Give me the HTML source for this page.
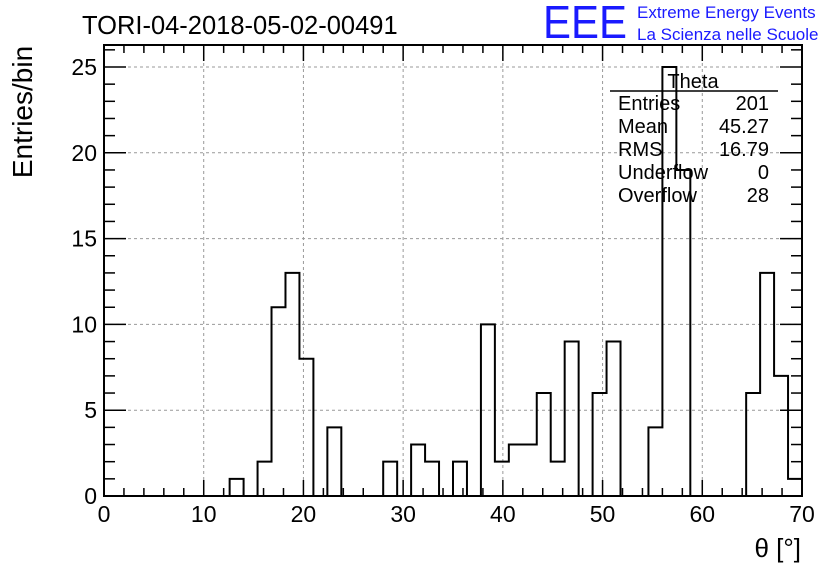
<!DOCTYPE html>
<html><head><meta charset="utf-8"><style>
html,body{margin:0;padding:0;background:#fff;}
svg text{font-family:"Liberation Sans",sans-serif;}
</style></head><body>
<svg id="c" width="836" height="572" xmlns="http://www.w3.org/2000/svg">
<rect width="836" height="572" fill="#fff"/>
<g id="grid"></g>
<g id="hist"></g>
<g id="axes"></g>
<text x="82" y="34" font-size="25.5">TORI-04-2018-05-02-00491</text>
<text x="543" y="38" font-size="46" fill="#1a1aff" textLength="84" lengthAdjust="spacingAndGlyphs">EEE</text>
<text x="637" y="18" font-size="17" fill="#1a1aff">Extreme Energy Events</text>
<text x="637" y="40" font-size="17" fill="#1a1aff">La Scienza nelle Scuole</text>
<text transform="translate(32,112) rotate(-90)" text-anchor="middle" font-size="28">Entries/bin</text>
<text x="801" y="557" text-anchor="end" font-size="26">θ [°]</text>
<g font-size="20">
<text x="693" y="88" text-anchor="middle">Theta</text>
<line x1="610" y1="91" x2="778" y2="91" stroke="#000" stroke-width="1.5"/>
<text x="618" y="110">Entries</text><text x="769" y="110" text-anchor="end">201</text>
<text x="618" y="133">Mean</text><text x="769" y="133" text-anchor="end">45.27</text>
<text x="618" y="156">RMS</text><text x="769" y="156" text-anchor="end">16.79</text>
<text x="618" y="179">Underflow</text><text x="769" y="179" text-anchor="end">0</text>
<text x="618" y="202">Overflow</text><text x="769" y="202" text-anchor="end">28</text>
</g>
</svg>
<script>
const counts=[0,0,0,0,0,0,0,0,0,1,0,2,11,13,8,0,4,0,0,0,2,0,3,2,0,2,0,10,2,3,3,6,2,9,0,6,9,0,0,4,25,19,0,0,0,0,6,13,7,1];
const xTicks=[0,10,20,30,40,50,60,70];
const yTicks=[0,5,10,15,20,25];
const xMin=0,xMax=70,yMin=0,yMax=25;
const L=104,R=802,T=45,B=496,Y25=67;
const sx=v=>L+(v-xMin)/(xMax-xMin)*(R-L);
const sy=v=>B-(v-yMin)/(yMax-yMin)*(B-Y25);
const NS="http://www.w3.org/2000/svg";
function mk(tag,attrs,parent){const e=document.createElementNS(NS,tag);for(const k in attrs)e.setAttribute(k,attrs[k]);document.getElementById(parent).appendChild(e);return e;}
xTicks.forEach(t=>{if(t>xMin&&t<xMax){const g=mk('line',{x1:sx(t),x2:sx(t),y1:T,y2:B,stroke:'#999','stroke-dasharray':'3,3'},'grid');}});
yTicks.forEach(t=>{if(t>yMin){const g=mk('line',{x1:L,x2:R,y1:sy(t),y2:sy(t),stroke:'#999','stroke-dasharray':'3,3'},'grid');}});
const bw=(xMax-xMin)/counts.length;
let d='M'+sx(xMin)+','+sy(0);
counts.forEach((c,i)=>{d+=' L'+sx(xMin+i*bw)+','+sy(c)+' L'+sx(xMin+(i+1)*bw)+','+sy(c);});
d+=' L'+sx(xMax)+','+sy(0);
const p=mk('path',{d:d,fill:'none',stroke:'#000','stroke-width':2},'hist');


const f=mk('rect',{x:L,y:T,width:R-L,height:B-T,fill:'none',stroke:'#000','stroke-width':2},'axes');


for(let v=xMin;v<=xMax;v+=2){const maj=v%10===0;const len=maj?16:8;
mk('line',{x1:sx(v),x2:sx(v),y1:B,y2:B-len,stroke:'#000','stroke-width':1.5},'axes');
mk('line',{x1:sx(v),x2:sx(v),y1:T,y2:T+len,stroke:'#000','stroke-width':1.5},'axes');}
xTicks.forEach(t=>{const tx=mk('text',{x:sx(t),y:522,'text-anchor':'middle','font-size':23},'axes');tx.textContent=t;});
for(let v=yMin;v<=26;v+=1){const y=sy(v);if(y<T)break;const maj=v%5===0;const len=maj?22:11;
mk('line',{x1:L,x2:L+len,y1:y,y2:y,stroke:'#000','stroke-width':1.5},'axes');
mk('line',{x1:R,x2:R-len,y1:y,y2:y,stroke:'#000','stroke-width':1.5},'axes');}
yTicks.forEach(t=>{const tx=mk('text',{x:97,y:sy(t)+8,'text-anchor':'end','font-size':23},'axes');tx.textContent=t;});
</script>
</body></html>
